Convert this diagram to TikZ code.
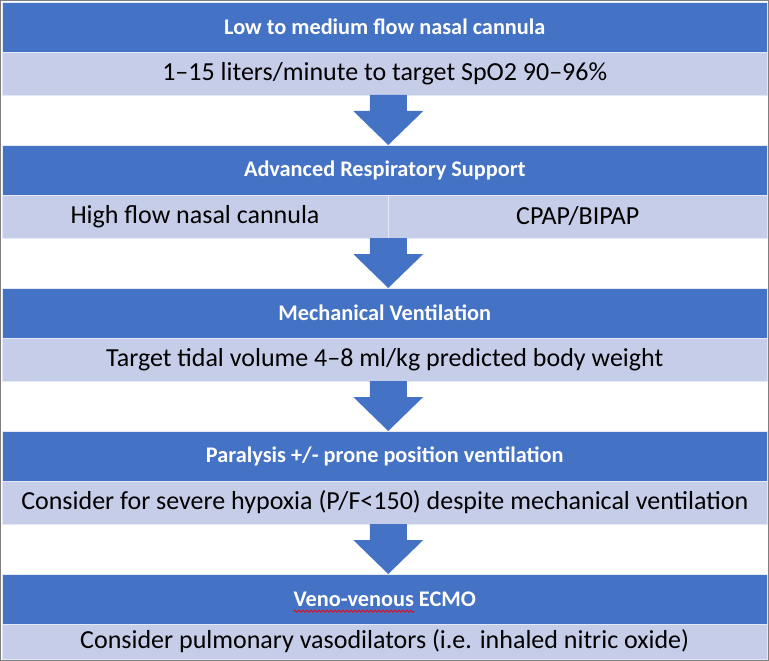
\documentclass[tikz,border=0pt]{standalone}
\usepackage{fontspec}
\setmainfont{Carlito}
\usetikzlibrary{decorations.pathmorphing}
\definecolor{hblue}{HTML}{4472C4}
\definecolor{lblue}{HTML}{C6CDE9}
\definecolor{bordergray}{HTML}{7F7F7F}
\begin{document}
\begin{tikzpicture}[x=1pt,y=-1pt,
  bar/.style={inner sep=0pt, outer sep=0pt, anchor=north west, minimum width=765.5pt, draw=white!55!lblue, line width=0.6pt},
  hdr/.style={bar, fill=hblue, minimum height=50pt},
  bodybar/.style={bar, fill=lblue, minimum height=43pt},
  hdrfont/.style={font=\fontsize{22.3}{26}\selectfont\bfseries},
  hdrtext/.style={hdrfont, inner sep=0pt, text=white},
  bodytext/.style={inner sep=0pt, text=black, font=\fontsize{26}{30}\selectfont},
  flowarrow/.style={fill=hblue}
]
\useasboundingbox (0,0) rectangle (769,661);
\fill[white] (0,0) rectangle (769,661);

% row 1
\node[hdr] (h1) at (2,2) {};
\node[hdrtext] (t1) at (h1.center) {Low to medium flow nasal cannula};
\node[bodybar] (b1) at (2,52) {};
\node[bodytext] (s1) at (b1.center) {1–15 liters/minute to target SpO2 90–96\%};

% row 2
\node[hdr] (h2) at (2,145) {};
\node[hdrtext] (t2) at (h2.center) {Advanced Respiratory Support};
\node[bodybar, minimum width=386pt] (b2l) at (2,195) {};
\node[bodybar, minimum width=379.5pt] (b2r) at (388,195) {};
\node[bodytext] (s2l) at (b2l.center) {High flow nasal cannula};
\node[bodytext] (s2r) at (b2r.center) {CPAP/BIPAP};

% row 3
\node[hdr] (h3) at (2,288) {};
\node[hdrtext] (t3) at (h3.center) {Mechanical Ventilation};
\node[bodybar] (b3) at (2,338) {};
\node[bodytext] (s3) at (b3.center) {Target tidal volume 4–8 ml/kg predicted body weight};

% row 4
\node[hdr] (h4) at (2,431) {};
\node[hdrtext] (t4) at (h4.center) {Paralysis +/- prone position ventilation};
\node[bodybar] (b4) at (2,481) {};
\node[bodytext] (s4) at (b4.center) {Consider for severe hypoxia (P/F<150) despite mechanical ventilation};

% row 5
\node[hdr] (h5) at (2,574) {};
\node[hdrtext] (t5) at (h5.center) {Veno-venous ECMO};
\node[bodybar, minimum height=35pt] (b5) at (2,624) {};
\node[bodytext] (s5) at (b5.center) {Consider pulmonary vasodilators (i.e. inhaled nitric oxide)};

% spell-check wavy underline
\node[hdrfont, inner sep=0pt, anchor=base west] (vv) at (t5.base west) {\phantom{Veno-venous}};
\draw[red, line width=0.8pt, decorate, decoration={snake, amplitude=1pt, segment length=4pt}]
  ([yshift=-5pt]vv.base west) -- ([yshift=-5pt]vv.base east);

% arrows
\foreach \b/\h in {b1/h2, b2l/h3, b3/h4, b4/h5}{
  \coordinate (a) at ([xshift=3.5pt]\b.south -| b1.south);
  \fill[flowarrow] (a) ++(-18.5,0) -- ++(37,0) -- ++(0,16) -- ++(16.5,0)
     -- ++(-35,34) -- ++(-35,-34) -- ++(16.5,0) -- cycle;
}

% outer border
\draw[bordergray, line width=1.3pt] (0.8,0.8) rectangle (768.2,660.2);
\end{tikzpicture}
\end{document}
